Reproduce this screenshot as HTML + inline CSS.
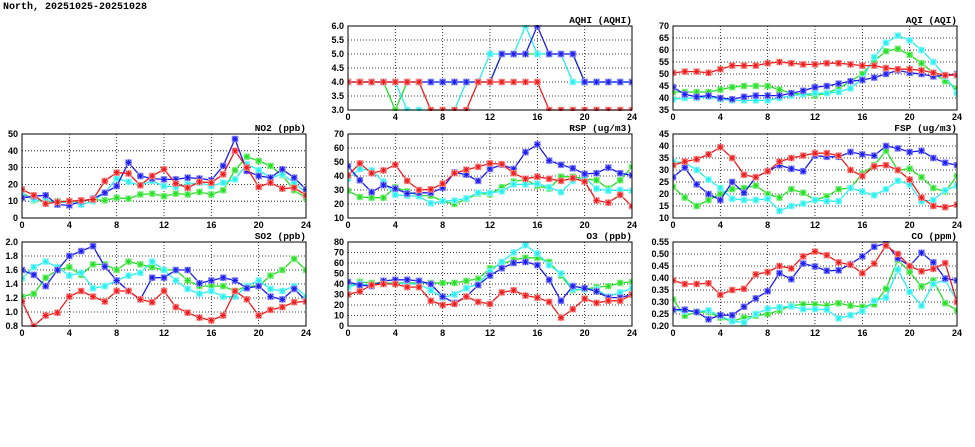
<!DOCTYPE html>
<html><head><meta charset="utf-8">
<style>
html,body{margin:0;padding:0;background:#fff;}
svg{display:block;}
text{font-family:"Liberation Sans",sans-serif;font-weight:bold;font-size:9px;fill:#000;}
.ttl{font-family:"Liberation Mono",monospace;font-size:9.5px;}
</style></head>
<body>
<svg id="chart" width="975" height="447" viewBox="0 0 975 447" xmlns="http://www.w3.org/2000/svg">
<text class="ttl" x="3" y="9" style="font-size:10px">North, 20251025-20251028</text>
</svg>
<script>
const hours = [0,1,2,3,4,5,6,7,8,9,10,11,12,13,14,15,16,17,18,19,20,21,22,23,24];
const xTicks = [0,4,8,12,16,20,24];
const seriesNames = ['green','cyan','blue','red'];

const aqhiGreen = [4,4,4,4,3,4,4,4,4,4,4,4,4,5,5,5,5,5,5,5,4,4,4,4,4];
const aqhiCyan  = [4,4,4,4,4,3,3,3,3,3,4,4,5,5,5,6,5,5,5,4,4,4,4,4,4];
const aqhiBlue  = [4,4,4,4,4,4,4,4,4,4,4,4,4,5,5,5,6,5,5,5,4,4,4,4,4];
const aqhiRed   = [4,4,4,4,4,4,4,3,3,3,3,4,4,4,4,4,4,3,3,3,3,3,3,3,3];

const aqiGreen = [42.5,42.5,42.5,42.5,43.5,44.5,45,45,45,43.5,42,41.5,41,42,44,47,50,55.5,59.5,60.5,58,54.5,50.5,47,44];
const aqiCyan  = [39.5,40,40,40.5,39.5,39,39,39,39,40,41,41.5,42,42,42.5,44,48,57,63,66,64,60,55,49,42];
const aqiBlue  = [44.5,41.5,40.5,41,40,39.5,40.5,41,41,41,42,43,44.5,45,46,47,47.5,48.5,50,51.5,50.5,50,49,49.5,50];
const aqiRed   = [50.5,51,51,50.5,52,53.5,53.5,53.5,54.5,55,54.5,54,54,54.5,54.5,54,53.5,53.5,52.5,52,52,51.5,50.5,49.5,49.5];

const no2Green = [15.5,10.5,10,10,10,10,11,10.5,12,11.5,14,14.5,13,14.5,14,15.5,14,16.5,28.5,36.5,34,31,25.5,16.5,12];
const no2Cyan  = [14,11,10,9,9.5,8,10,15,23.5,21.5,19.5,22,19,18.5,20,21,19,21,23,32,28.5,24,26,21,15];
const no2Blue  = [12,13,13.5,8,7.5,10,11.5,15,19,33,25,23.5,23,23,24,23.5,22.5,31,47,28,25,24,29,24,17];
const no2Red   = [17,13.5,8.5,9.5,10,10.5,11,22,27,26.5,19.5,25,29,20.5,18,21.5,21,26,40,30,18.5,21,17.5,18,13.5];

const rspGreen = [29.5,25,24.5,24.5,32,29,26,26,22,20,23.5,27.5,27,32,36,37.5,33,31,39.5,39.5,38,37,31,37,46.5];
const rspCyan  = [38,45,44,36,26.5,26,25.5,20.5,22,22.5,24,28,28,29,34,34,34.5,32,28.5,36.5,39,31,29.5,30,29.5];
const rspBlue  = [47,37,28.5,33.5,31,27.5,28,28,31.5,42.5,41,36.5,45,48,45,57,62.5,51,48,45.5,41.5,42,46,42,40.5];
const rspRed   = [40.5,49,42,44,48,36.5,30,30.5,34.5,42,44.5,46.5,49,48.5,42,38,39.5,38,36.5,38.5,36,22.5,21,26.5,18.5];

const fspGreen = [23,18.5,15,17.5,20,22,22.5,23.5,20,18.5,22,20.5,17.5,19,22,22.5,28.5,32,38,30,30.5,27,22.5,21,27.5];
const fspCyan  = [33.5,33,30,26,22.5,18,17.5,17.5,18,13,15,16,17.5,17,17,22.5,21,19.5,22,25.5,24,17,17.5,21.5,23.5];
const fspBlue  = [27,31,24,20,17.5,25,20.5,27,29.5,32,30.5,29.5,36,35.5,35.5,37.5,36.5,36,40,39,37.5,38,35,33,32];
const fspRed   = [32,33.5,34.5,36.5,39.5,35,28,27,29.5,33.5,35,36,37,37,36,30,27.5,31.5,32,30,26,18.5,15,14.5,15.5];

const so2Green = [1.22,1.26,1.49,1.6,1.64,1.53,1.68,1.68,1.6,1.72,1.68,1.64,1.6,1.6,1.45,1.37,1.37,1.37,1.3,1.37,1.37,1.52,1.6,1.76,1.6];
const so2Cyan  = [1.48,1.64,1.72,1.64,1.52,1.56,1.34,1.37,1.45,1.52,1.56,1.72,1.6,1.45,1.33,1.26,1.3,1.22,1.22,1.37,1.45,1.33,1.3,1.37,1.22];
const so2Blue  = [1.6,1.53,1.37,1.6,1.8,1.87,1.94,1.65,1.45,1.3,1.18,1.49,1.49,1.6,1.6,1.41,1.45,1.49,1.45,1.34,1.37,1.22,1.18,1.33,1.16];
const so2Red   = [1.15,0.8,0.95,0.99,1.22,1.3,1.22,1.15,1.3,1.3,1.18,1.14,1.3,1.07,0.99,0.92,0.88,0.95,1.3,1.18,0.95,1.03,1.07,1.14,1.15];

const o3Green = [37,42,41,41,41,41,41,41,41,41,43,45,55,59,63,65,65,61,48,34,35,37,38,41,42];
const o3Cyan  = [37,40,39,40,41,40,40,34,27,30,36,40,52,61,70,77,69,58,50,35,35,35,28,32,36];
const o3Blue  = [42,39,38,43,44,44,43,40,28,22,28,39,48,55,60,61,58,44,24,38,36,33,27,27,30];
const o3Red   = [30,33,39,40,40,37,37,24,20,21,28,23,21,32,34,29,27,23,8,16,26,22,24,24,30];

const coGreen = [0.31,0.243,0.258,0.258,0.235,0.22,0.235,0.243,0.25,0.265,0.285,0.29,0.29,0.285,0.295,0.285,0.28,0.29,0.355,0.475,0.425,0.365,0.39,0.295,0.265];
const coCyan  = [0.265,0.262,0.26,0.265,0.242,0.22,0.215,0.25,0.272,0.278,0.282,0.27,0.27,0.268,0.232,0.245,0.262,0.305,0.318,0.435,0.342,0.285,0.375,0.392,0.305];
const coBlue  = [0.268,0.268,0.258,0.228,0.245,0.245,0.28,0.315,0.345,0.42,0.395,0.46,0.448,0.43,0.432,0.458,0.49,0.53,0.545,0.482,0.45,0.505,0.465,0.398,0.39];
const coRed   = [0.39,0.375,0.375,0.378,0.33,0.35,0.355,0.415,0.425,0.45,0.44,0.49,0.51,0.495,0.465,0.455,0.42,0.46,0.535,0.5,0.45,0.428,0.438,0.462,0.3];

const panelTitles = ['AQHI (AQHI)','AQI (AQI)','NO2 (ppb)','RSP (ug/m3)','FSP (ug/m3)','SO2 (ppb)','O3 (ppb)','CO (ppm)'];
const panelYMin  = [3,35,0,10,10,0.8,0,0.2];
const panelYMax  = [6,70,50,70,45,2.0,80,0.55];
const panelYStep = [0.5,5,10,10,5,0.2,10,0.05];
const panelYDec  = [1,0,0,0,0,1,0,2];
const panelSeries = [
  [aqhiGreen,aqhiCyan,aqhiBlue,aqhiRed],
  [aqiGreen,aqiCyan,aqiBlue,aqiRed],
  [no2Green,no2Cyan,no2Blue,no2Red],
  [rspGreen,rspCyan,rspBlue,rspRed],
  [fspGreen,fspCyan,fspBlue,fspRed],
  [so2Green,so2Cyan,so2Blue,so2Red],
  [o3Green,o3Cyan,o3Blue,o3Red],
  [coGreen,coCyan,coBlue,coRed]
];
const panelKeys = ['aqhi','aqi','no2','rsp','fsp','so2','o3','co'];

const colors = {green:'#22e022',cyan:'#22f0f0',blue:'#1a1aee',red:'#ee1a1a'};
const lights = {green:'#a0f0a0',cyan:'#a0f8f8',blue:'#9a9af8',red:'#f8a0a0'};
const layout = [[348,26],[673,26],[22,134],[348,134],[673,134],[22,242],[348,242],[673,242]];
const PW = 284, PH = 84;
const NS = 'http://www.w3.org/2000/svg';
const svg = document.getElementById('chart');

function mk(tag, attrs, parent){
  const e = document.createElementNS(NS, tag);
  for (const k in attrs) e.setAttribute(k, attrs[k]);
  (parent||svg).appendChild(e);
  return e;
}

panelKeys.forEach((key, p) => {
  const [x0,y0] = layout[p];
  const ymin = panelYMin[p], ymax = panelYMax[p];
  const xs = h => x0 + h/24*PW;
  const ys = v => y0 + PH - (v-ymin)/(ymax-ymin)*PH;
  const g = mk('g', {});
  
  

  const cp = mk('clipPath', {id:'clip'+p}, g);
  mk('rect', {x:x0, y:y0-1, width:PW, height:PH+2}, cp);

  // grid
  const nT = Math.round((ymax-ymin)/panelYStep[p]);
  for (let i=0;i<=nT;i++){
    const v = ymin + i*panelYStep[p];
    const y = ys(v);
    if (i>0 && i<nT){
      const gl = mk('line', {x1:x0, x2:x0+PW, y1:y, y2:y, stroke:'#000', 'stroke-width':0.8, 'stroke-dasharray':'1,2'}, g);
      
      
    }
    const t = mk('text', {x:x0-4, y:y+3, 'text-anchor':'end'}, g);
    t.textContent = v.toFixed(panelYDec[p]);
    
    
  }
  xTicks.forEach((h,i) => {
    const x = xs(h);
    if (i>0 && i<xTicks.length-1){
      const gl = mk('line', {x1:x, x2:x, y1:y0, y2:y0+PH, stroke:'#000', 'stroke-width':0.8, 'stroke-dasharray':'1,2'}, g);
      
      
    }
    const t = mk('text', {x:x, y:y0+PH+10, 'text-anchor':'middle'}, g);
    t.textContent = h;
    
    
  });

  const title = mk('text', {x:x0+PW, y:y0-3, 'text-anchor':'end', class:'ttl'}, g);
  title.textContent = panelTitles[p];
  
  

  const sg = mk('g', {'clip-path':'url(#clip'+p+')'}, g);
  panelSeries[p].forEach((arr, s) => {
    const c = seriesNames[s];
    const pts = arr.map((v,i) => xs(hours[i]).toFixed(1)+','+ys(v).toFixed(1)).join(' ');
    const pl = mk('polyline', {points:pts, fill:'none', stroke:colors[c], 'stroke-width':1.3}, sg);
    
    
    arr.forEach((v,i) => {
      const cx = xs(hours[i]), cy = ys(v);
      const m = mk('g', {}, sg);
      
      
      mk('rect', {x:cx-3, y:cy-3, width:6, height:6, fill:lights[c], stroke:lights[c], 'stroke-width':0.6}, m);
      const d = 'M'+(cx-3)+' '+cy+'H'+(cx+3)+'M'+cx+' '+(cy-3)+'V'+(cy+3)+
                'M'+(cx-2.3)+' '+(cy-2.3)+'L'+(cx+2.3)+' '+(cy+2.3)+'M'+(cx-2.3)+' '+(cy+2.3)+'L'+(cx+2.3)+' '+(cy-2.3);
      mk('path', {d:d, stroke:colors[c], 'stroke-width':1, fill:'none'}, m);
    });
  });

  const fr = mk('rect', {x:x0, y:y0, width:PW, height:PH, fill:'none', stroke:'#000', 'stroke-width':1}, g);
  
  
});
</script>
</body></html>
